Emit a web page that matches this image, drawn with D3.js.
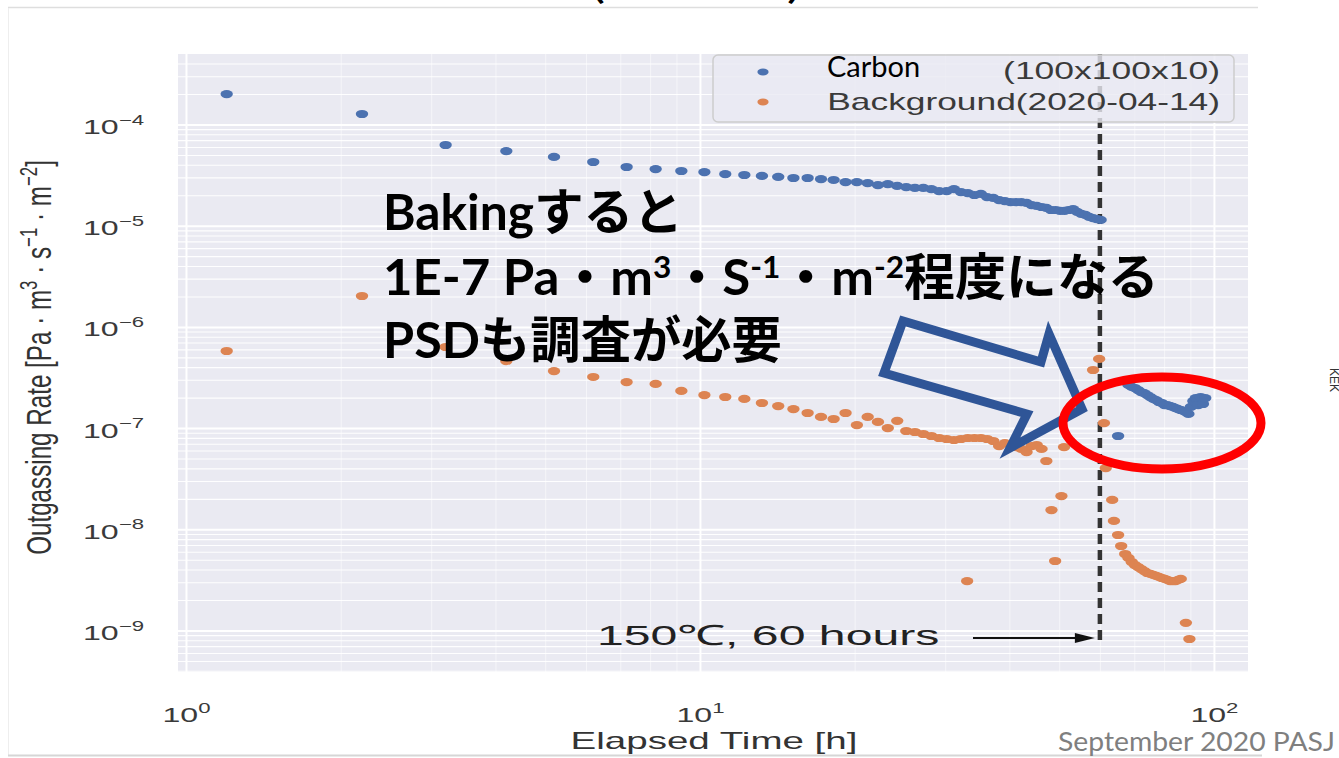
<!DOCTYPE html>
<html>
<head>
<meta charset="utf-8">
<script src="https://cdn.jsdelivr.net/npm/d3@7"></script>
<style>
  body { margin: 0; background: #fff; }
  svg { display: block; }
</style>
</head>
<body>
<svg id="figure" width="1339" height="758"></svg>
<script>
// values (hours, Pa m3 s-1 m-2)
const carbonTime = [
    1.2, 2.2, 3.2, 4.2, 5.2, 6.2, 7.2, 8.2, 9.2, 10.2,
    11.2, 12.2, 13.2, 14.2, 15.2, 16.2, 17.2, 18.2, 19.2, 20.2,
    21.2, 22.2, 23.2, 24.2, 25.2, 26.2, 27.2, 28.2, 29.2, 30.2,
    31.2, 32.2, 33.2, 34.2, 35.2, 36.2, 37.2, 38.2, 39.2, 40.2,
    41.2, 42.2, 43.2, 44.2, 45.2, 46.2, 47.2, 48.2, 49.2, 50.2,
    51.2, 52.2, 53.2, 54.2, 55.2, 56.2, 57.2, 58.2, 59.2, 60.2,
    65.1, 68.2, 69.2, 70.2, 71.2, 72.2, 73.2, 74.2, 75.2, 76.2,
    77.2, 78.2, 79.2, 80.2, 81.2, 82.2, 83.2, 84.2, 85.2, 86.2,
    87.2, 88.2, 89.2, 90.2, 91.2, 92.2, 93.2, 94.2, 95.2, 96.2
];
const carbonRate = [
    2.00e-4, 1.27e-4, 6.27e-5, 5.46e-5, 4.78e-5, 4.26e-5, 3.80e-5, 3.63e-5, 3.47e-5, 3.39e-5,
    3.24e-5, 3.17e-5, 3.10e-5, 3.03e-5, 2.96e-5, 2.96e-5, 2.89e-5, 2.83e-5, 2.70e-5, 2.70e-5,
    2.64e-5, 2.52e-5, 2.58e-5, 2.47e-5, 2.41e-5, 2.36e-5, 2.36e-5, 2.30e-5, 2.20e-5, 2.20e-5,
    2.30e-5, 2.15e-5, 2.10e-5, 2.01e-5, 2.06e-5, 1.92e-5, 1.88e-5, 1.79e-5, 1.75e-5, 1.71e-5,
    1.71e-5, 1.71e-5, 1.68e-5, 1.60e-5, 1.57e-5, 1.53e-5, 1.50e-5, 1.43e-5, 1.43e-5, 1.40e-5,
    1.40e-5, 1.43e-5, 1.46e-5, 1.37e-5, 1.31e-5, 1.28e-5, 1.22e-5, 1.19e-5, 1.16e-5, 1.14e-5,
    8.35e-8, 2.67e-7, 2.55e-7, 2.49e-7, 2.38e-7, 2.27e-7, 2.22e-7, 2.12e-7, 2.03e-7, 1.94e-7,
    1.89e-7, 1.81e-7, 1.77e-7, 1.69e-7, 1.69e-7, 1.65e-7, 1.62e-7, 1.58e-7, 1.54e-7, 1.51e-7,
    1.48e-7, 1.44e-7, 1.38e-7, 1.62e-7, 1.85e-7, 1.98e-7, 1.69e-7, 2.03e-7, 1.73e-7, 1.98e-7
];
const backgroundTime = [
    1.2, 2.2, 3.2, 4.2, 5.2, 6.2, 7.2, 8.2, 9.2, 10.2,
    11.2, 12.2, 13.2, 14.2, 15.2, 16.2, 17.2, 18.2, 19.2, 20.2,
    21.2, 22.2, 23.2, 24.2, 25.2, 26.2, 27.2, 28.2, 29.2, 30.2,
    31.2, 32.2, 33.2, 34.2, 35.2, 36.2, 37.2, 38.2, 39.2, 40.2,
    41.2, 42.2, 43.2, 44.2, 45.2, 46.2, 47.2,
    33.1, 48.3, 49.1, 50.5, 51.1, 58.2, 59.8, 61.1, 61.6, 63.4,
    63.9, 65.1, 66.0, 67.2, 68.2, 69.2, 70.2, 71.2, 72.2, 73.2,
    74.2, 75.2, 76.2, 77.2, 78.2, 79.2, 80.2, 81.2, 82.2, 83.2,
    84.2, 85.2, 86.2, 88.2, 89.6
];
const backgroundRate = [
    5.78e-7, 2.02e-6, 6.33e-7, 4.60e-7, 3.66e-7, 3.20e-7, 2.85e-7, 2.73e-7, 2.33e-7, 2.12e-7,
    2.03e-7, 1.94e-7, 1.77e-7, 1.65e-7, 1.54e-7, 1.41e-7, 1.29e-7, 1.23e-7, 1.41e-7, 1.07e-7,
    1.29e-7, 1.15e-7, 1.00e-7, 1.18e-7, 9.36e-8, 9.15e-8, 8.74e-8, 8.35e-8, 7.98e-8, 7.80e-8,
    7.63e-8, 7.80e-8, 7.98e-8, 7.98e-8, 7.98e-8, 7.80e-8, 7.46e-8, 6.65e-8, 7.12e-8, 6.96e-8,
    6.50e-8, 6.22e-8, 5.80e-8, 6.65e-8, 6.81e-8, 6.22e-8, 4.73e-8,
    3.08e-9, 1.55e-8, 4.86e-9, 2.13e-8, 6.50e-8, 3.75e-7, 4.82e-7, 1.12e-7, 4.03e-8, 1.95e-8,
    1.21e-8, 8.78e-9, 6.84e-9, 5.70e-9, 5.21e-9, 4.75e-9, 4.44e-9, 4.24e-9, 4.05e-9, 3.87e-9,
    3.70e-9, 3.62e-9, 3.54e-9, 3.46e-9, 3.38e-9, 3.30e-9, 3.23e-9, 3.16e-9, 3.08e-9, 3.08e-9,
    3.08e-9, 3.16e-9, 3.23e-9, 1.19e-9, 8.24e-10
];
const xTickExp = [0, 1, 2];
const yTickExp = [-9, -8, -7, -6, -5, -4];
const seriesNames = ["Carbon", "Background(2020-04-14)"];
const carbonSize = "(100x100x10)";
const bakingHours = 60;
const bakingLabel = "150\u2103, 60 hours";

const blue = "#4C72B0", orange = "#DD8452";
const plot = {left: 178, right: 1248, top: 54, bottom: 672};
const stretch = 1.53; // the figure was pasted into the slide stretched sideways
const figFont = "'Liberation Sans', Arial, sans-serif";

const svg = d3.select("#figure");

const x = d3.scaleLog()
    .domain([0.9648, 116.5])
    .range([plot.left, plot.right]);
const y = d3.scaleLog()
    .domain([Math.pow(10, -9.4101), Math.pow(10, -3.3034)])
    .range([plot.bottom, plot.top]);

// faint edges of the pasted picture
svg.append("line").attr("x1", 8).attr("x2", 1258).attr("y1", 7.5).attr("y2", 7.5)
    .attr("stroke", "#dedede").attr("stroke-width", 1.5);
svg.append("line").attr("x1", 8.5).attr("x2", 8.5).attr("y1", 8).attr("y2", 755)
    .attr("stroke", "#eeeeee").attr("stroke-width", 1);
svg.append("line").attr("x1", 8).attr("x2", 1262).attr("y1", 755.5).attr("y2", 755.5)
    .attr("stroke", "#d6d6d6").attr("stroke-width", 2);

// cut-off title at the very top
const title = svg.append("g");
const titleText = title.append("text")
    .attr("font-family", "Lato, 'Noto Sans CJK JP'").attr("font-size", 40)
    .attr("fill", "#000").text("(Carbon)");
title.attr("transform", `translate(590,-2) scale(${212 / titleText.node().getComputedTextLength()},1)`);

svg.append("rect")
    .attr("x", plot.left).attr("y", plot.top)
    .attr("width", plot.right - plot.left).attr("height", plot.bottom - plot.top)
    .attr("fill", "#EAEAF2");

const isPow10 = v => Math.abs(Math.log10(v) - Math.round(Math.log10(v))) < 1e-9;
const xMajor = xTickExp.map(e => Math.pow(10, e));
const yMajor = yTickExp.map(e => Math.pow(10, e));
const xMinor = x.ticks().filter(v => !isPow10(v));
const yMinor = y.ticks().filter(v => !isPow10(v));

function gridStyle(g, width, opacity) {
    g.select(".domain").remove();
    g.selectAll(".tick text").remove();
    g.selectAll(".tick line").attr("stroke", "#fff").attr("stroke-width", width).attr("stroke-opacity", opacity);
}

svg.append("g").attr("transform", `translate(0,${plot.bottom})`)
    .call(d3.axisBottom(x).tickValues(xMinor).tickSize(-(plot.bottom - plot.top)).tickFormat(""))
    .call(g => gridStyle(g, 1, 0.55));
svg.append("g").attr("transform", `translate(${plot.left},0)`)
    .call(d3.axisLeft(y).tickValues(yMinor).tickSize(-(plot.right - plot.left)).tickFormat(""))
    .call(g => gridStyle(g, 1.1, 0.95));

function powLabel(sel, exp, anchor) {
    const t = sel.append("text")
        .attr("text-anchor", anchor).attr("fill", "#3a3a3a")
        .attr("font-family", figFont).attr("font-size", 21);
    t.append("tspan").text("10");
    t.append("tspan").attr("font-size", 14.5).attr("dy", -9.5)
        .text(exp < 0 ? "\u2212" + (-exp) : String(exp));
}

const xAxis = svg.append("g").attr("transform", `translate(0,${plot.bottom})`)
    .call(d3.axisBottom(x).tickValues(xMajor).tickSize(-(plot.bottom - plot.top)).tickFormat(""))
    .call(g => gridStyle(g, 2, 1));
xAxis.selectAll(".tick").each(function (d) {
    const g = d3.select(this).append("g").attr("transform", `translate(0,50) scale(${stretch},1)`);
    powLabel(g, Math.round(Math.log10(d)), "middle");
});

const yAxis = svg.append("g").attr("transform", `translate(${plot.left},0)`)
    .call(d3.axisLeft(y).tickValues(yMajor).tickSize(-(plot.right - plot.left)).tickFormat(""))
    .call(g => gridStyle(g, 2, 1));
yAxis.selectAll(".tick").each(function (d) {
    const g = d3.select(this).append("g").attr("transform", `translate(-34,9) scale(${stretch},1)`);
    powLabel(g, Math.round(Math.log10(d)), "end");
});

// baking end
svg.append("line")
    .attr("x1", x(bakingHours)).attr("x2", x(bakingHours))
    .attr("y1", plot.top).attr("y2", 646)
    .attr("stroke", "#333").attr("stroke-width", 4.5).attr("stroke-dasharray", "10,6");

// points
const carbon = d3.zip(carbonTime, carbonRate);
const background = d3.zip(backgroundTime, backgroundRate);

svg.append("g").selectAll("ellipse").data(carbon).join("ellipse")
    .attr("cx", d => x(d[0])).attr("cy", d => y(d[1]))
    .attr("rx", 6.2).attr("ry", 4.1).attr("fill", blue);
svg.append("g").selectAll("ellipse").data(background).join("ellipse")
    .attr("cx", d => x(d[0])).attr("cy", d => y(d[1]))
    .attr("rx", 6.2).attr("ry", 4.1).attr("fill", orange);

// annotation arrow + text
const arrowY = 638, arrowEnd = x(bakingHours) - 5;
svg.append("line").attr("x1", 973).attr("x2", arrowEnd - 16)
    .attr("y1", arrowY).attr("y2", arrowY).attr("stroke", "#111").attr("stroke-width", 2.2);
svg.append("path")
    .attr("d", `M${arrowEnd - 20},${arrowY - 5}L${arrowEnd},${arrowY}L${arrowEnd - 20},${arrowY + 5}Z`)
    .attr("fill", "#111");

function stretchedText(px, py, str, size, width, anchor, color, family) {
    const g = svg.append("g");
    const t = g.append("text").attr("text-anchor", anchor).attr("fill", color)
        .attr("font-family", family || figFont).attr("font-size", size).text(str);
    g.attr("transform", `translate(${px},${py}) scale(${width / t.node().getComputedTextLength()},1)`);
    return t;
}

stretchedText(597, 645, bakingLabel, 28, 343, "start", "#222");
stretchedText(714, 749, "Elapsed Time [h]", 24, 287, "middle", "#333");

// y label: glyph heights stretched, run length fitted
const yl = svg.append("g");
const ylText = yl.append("text").attr("text-anchor", "middle").attr("fill", "#333")
    .attr("font-family", figFont).attr("font-size", 23);
[["Outgassing Rate [Pa \u00b7 m", 0], ["3", 1], [" \u00b7 s", 0], ["\u22121", 1],
 [" \u00b7 m", 0], ["\u22122", 1], ["]", 0]].forEach((p, i, arr) => {
    const ts = ylText.append("tspan").text(p[0]);
    if (p[1]) ts.attr("font-size", 16).attr("dy", -9);
    else if (i > 0 && arr[i - 1][1]) ts.attr("dy", 9);
});
const ylLen = ylText.node().getComputedTextLength();
yl.attr("transform", `translate(51,357.5) scale(${stretch},${395 / ylLen}) rotate(-90)`);

// legend
const legend = svg.append("g");
legend.append("rect")
    .attr("x", 713).attr("y", 55).attr("width", 521).attr("height", 67).attr("rx", 5)
    .attr("fill", "#EAEAF2").attr("fill-opacity", 0.8)
    .attr("stroke", "#cdcdcd").attr("stroke-width", 1.5);
legend.selectAll("ellipse").data([blue, orange]).join("ellipse")
    .attr("cx", 763).attr("cy", (d, i) => 72 + i * 30)
    .attr("rx", 5.6).attr("ry", 3.4).attr("fill", d => d);
stretchedText(1220, 79, carbonSize, 23, 217, "end", "#3a3a3a");
stretchedText(1220, 110, seriesNames[1], 23, 393, "end", "#3a3a3a");
svg.append("text").attr("x", 827).attr("y", 77)
    .attr("font-family", "Lato, 'Noto Sans'").attr("font-size", 29).attr("fill", "#000")
    .text(seriesNames[0]);

// slide overlays
const jpFont = "Lato, 'Noto Sans CJK JP', sans-serif";
function jpLine(py, parts, width) {
    const g = svg.append("g");
    const t = g.append("text").attr("font-family", jpFont).attr("font-weight", 700)
        .attr("font-size", 50).attr("fill", "#000");
    parts.forEach((p, i) => {
        const ts = t.append("tspan").text(p[0]);
        if (p[1]) ts.attr("font-size", 31).attr("dy", -17);
        else if (i > 0 && parts[i - 1][1]) ts.attr("dy", 17);
    });
    g.attr("transform", `translate(383,${py}) scale(${width / t.node().getComputedTextLength()},1)`);
}
jpLine(230, [["Bakingすると", 0]], 300);
jpLine(295, [["1E-7 Pa・m", 0], ["3", 1], ["・S", 0], ["-1", 1], ["・m", 0], ["-2", 1], ["程度になる", 0]], 776);
jpLine(358, [["PSDも調査が必要", 0]], 399);

svg.append("path")
    .attr("d", "M903,321L884,373L1027,414L1010,448L1082,409L1049,334L1041,362Z")
    .attr("fill", "none").attr("stroke", "#2F5597").attr("stroke-width", 9)
    .attr("stroke-linejoin", "miter");

svg.append("ellipse")
    .attr("cx", 1162).attr("cy", 423).attr("rx", 99).attr("ry", 46)
    .attr("fill", "none").attr("stroke", "#FF0000").attr("stroke-width", 9);

stretchedText(1058, 751, "September 2020 PASJ", 26, 277, "start", "#7f7f7f", "Lato, 'Noto Sans'");

svg.append("text").attr("transform", "translate(1330,368) rotate(90)")
    .attr("font-family", figFont).attr("font-size", 12).attr("fill", "#333")
    .text("KEK");
</script>
</body>
</html>
